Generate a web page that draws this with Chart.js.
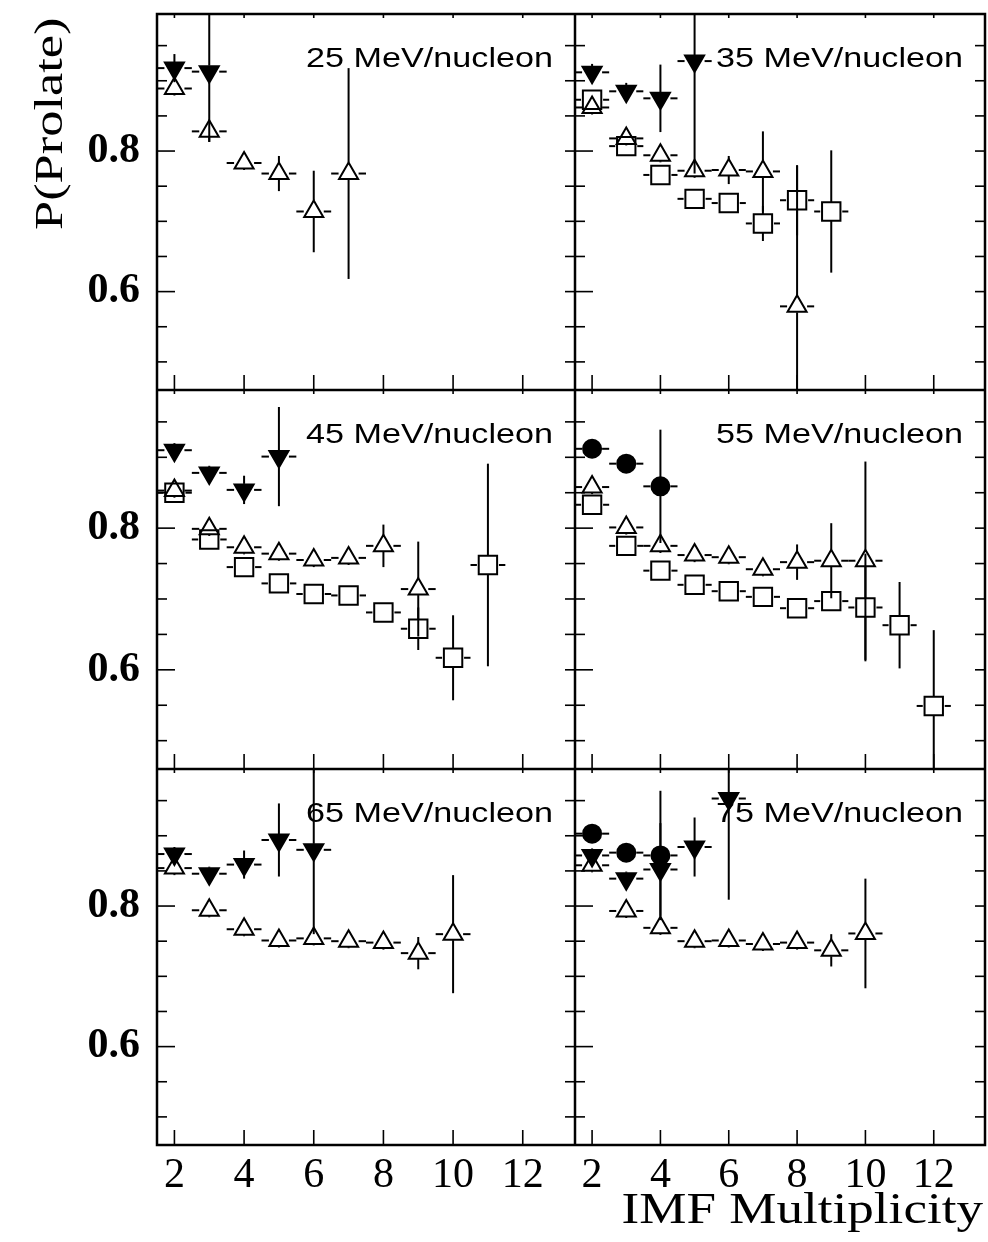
<!DOCTYPE html>
<html>
<head>
<meta charset="utf-8">
<script src="https://cdn.jsdelivr.net/npm/chart.js@4.4.0/dist/chart.umd.min.js"></script>
<style>
  html, body { margin: 0; padding: 0; background: #fff; }
  #page { position: relative; width: 988px; height: 1242px; overflow: hidden; background: #fff; }
  #page canvas { position: absolute; }
</style>
</head>
<body>
<div id="page"></div>
<script>
// IMF multiplicity bins (x values shared by every panel)
const multiplicity = [2, 3, 4, 5, 6, 7, 8, 9, 10, 11, 12];

// 25 MeV/nucleon
const e25Down = [0.918, 0.913];
const e25DownErr = [0.02, 0.10];
const e25Up = [0.889, 0.828, 0.783, 0.768, 0.714, 0.768];
const e25UpErr = [0.01, 0.015, 0.01, 0.025, 0.058, 0.15];

// 35 MeV/nucleon
const e35Down = [0.912, 0.885, 0.875, 0.928];
const e35DownErr = [0.012, 0.012, 0.048, 0.16];
const e35Up = [0.862, 0.818, 0.794, 0.772, 0.773, 0.771, 0.579];
const e35UpErr = [0.01, 0.01, 0.01, 0.01, 0.02, 0.057, 0.20];
const e35Sq = [0.873, 0.807, 0.766, 0.732, 0.726, 0.697, 0.730, 0.714];
const e35SqErr = [0.01, 0.01, 0.01, 0.01, 0.01, 0.025, 0.05, 0.087];

// 45 MeV/nucleon
const e45Down = [0.910, 0.878, 0.854, 0.901];
const e45DownErr = [0.01, 0.01, 0.02, 0.07];
const e45Up = [0.853, 0.799, 0.773, 0.764, 0.755, 0.758, 0.775, 0.714];
const e45UpErr = [0.01, 0.01, 0.01, 0.01, 0.01, 0.01, 0.03, 0.067];
const e45Sq = [0.850, 0.784, 0.745, 0.722, 0.707, 0.705, 0.681, 0.658, 0.617, 0.748];
const e45SqErr = [0.01, 0.01, 0.01, 0.01, 0.01, 0.01, 0.01, 0.03, 0.06, 0.143];

// 55 MeV/nucleon
const e55Circ = [0.912, 0.891, 0.859];
const e55CircErr = [0.01, 0.01, 0.08];
const e55Up = [0.858, 0.801, 0.775, 0.762, 0.759, 0.742, 0.752, 0.754, 0.754];
const e55UpErr = [0.01, 0.01, 0.01, 0.01, 0.01, 0.01, 0.025, 0.053, 0.14];
const e55Sq = [0.833, 0.775, 0.740, 0.720, 0.711, 0.703, 0.687, 0.697, 0.688, 0.663, 0.549];
const e55SqErr = [0.01, 0.01, 0.01, 0.01, 0.01, 0.01, 0.01, 0.01, 0.076, 0.061, 0.107];

// 65 MeV/nucleon
const e65Down = [0.874, 0.846, 0.859, 0.894, 0.880];
const e65DownErr = [0.01, 0.01, 0.02, 0.052, 0.12];
const e65Up = [0.854, 0.794, 0.767, 0.751, 0.754, 0.750, 0.748, 0.733, 0.760];
const e65UpErr = [0.01, 0.01, 0.01, 0.01, 0.01, 0.01, 0.01, 0.023, 0.084];

// 75 MeV/nucleon
const e75Circ = [0.903, 0.876, 0.872];
const e75CircErr = [0.01, 0.01, 0.092];
const e75Down = [0.872, 0.839, 0.852, 0.884, 0.953];
const e75DownErr = [0.01, 0.01, 0.066, 0.042, 0.144];
const e75Up = [0.858, 0.793, 0.769, 0.750, 0.751, 0.746, 0.748, 0.737, 0.761];
const e75UpErr = [0.01, 0.01, 0.01, 0.01, 0.01, 0.01, 0.01, 0.023, 0.078];

// axis ticks
const xLabelTicks = [2, 4, 6, 8, 10, 12];
const yLabelTicks = [0.6, 0.8];
const yMinorTicks = [0.5, 0.55, 0.6, 0.65, 0.7, 0.75, 0.8, 0.85, 0.9, 0.95];

const X_MIN = 1.5, X_MAX = 13.5;
const Y_MIN = 0.46, Y_MAX = 0.995;

// marker looks: radius plus the gap the error bars leave around the symbol
const MARKS = {
  down:   { style: 'triangle', rot: 180, r: 11, fill: '#000', gx: 10, gu: 6, gd: 11 },
  up:     { style: 'triangle', rot: 0, r: 11, fill: 'rgba(0,0,0,0)', gx: 10, gu: 11, gd: 6 },
  square: { style: 'rect', rot: 0, r: 13, fill: 'rgba(0,0,0,0)', gx: 11, gu: 9, gd: 9 },
  circle: { style: 'circle', rot: 0, r: 9, fill: '#000', gx: 10, gu: 9, gd: 9 }
};

const panels = [
  { label: '25 MeV/nucleon', col: 0, row: 0,
    series: [['up', e25Up, e25UpErr], ['down', e25Down, e25DownErr]] },
  { label: '35 MeV/nucleon', col: 1, row: 0,
    series: [['square', e35Sq, e35SqErr], ['up', e35Up, e35UpErr], ['down', e35Down, e35DownErr]] },
  { label: '45 MeV/nucleon', col: 0, row: 1,
    series: [['square', e45Sq, e45SqErr], ['up', e45Up, e45UpErr], ['down', e45Down, e45DownErr]] },
  { label: '55 MeV/nucleon', col: 1, row: 1,
    series: [['square', e55Sq, e55SqErr], ['up', e55Up, e55UpErr], ['circle', e55Circ, e55CircErr]] },
  { label: '65 MeV/nucleon', col: 0, row: 2,
    series: [['up', e65Up, e65UpErr], ['down', e65Down, e65DownErr]] },
  { label: '75 MeV/nucleon', col: 1, row: 2,
    series: [['up', e75Up, e75UpErr], ['down', e75Down, e75DownErr], ['circle', e75Circ, e75CircErr]] }
];

// page grid
const COL_X = [0, 575], COL_W = [575, 413];
const ROW_Y = [0, 390, 769], ROW_H = [390, 379, 473];

function stretchedText(ctx, text, x, y, font, sx, align, angle) {
  ctx.save();
  ctx.translate(x, y);
  if (angle) ctx.rotate(angle);
  ctx.scale(sx, 1);
  ctx.font = font;
  ctx.fillStyle = '#000';
  ctx.textAlign = align;
  ctx.textBaseline = 'alphabetic';
  ctx.fillText(text, 0, 0);
  ctx.restore();
}

function seg(ctx, x1, y1, x2, y2) {
  ctx.beginPath();
  ctx.moveTo(x1, y1);
  ctx.lineTo(x2, y2);
  ctx.stroke();
}

// scales get their exact size, and no extra room for edge labels
function fixSize(scale, w, h) {
  if (w !== null) scale.width = w;
  if (h !== null) scale.height = h;
  scale.paddingTop = 0;
  scale.paddingBottom = 0;
  scale.paddingLeft = 0;
  scale.paddingRight = 0;
}

const framePlugin = {
  id: 'frame',
  beforeDatasetsDraw(chart, args, opts) {
    const ctx = chart.ctx;
    const area = chart.chartArea;
    const xs = chart.scales.x, ys = chart.scales.y;

    stretchedText(ctx, opts.label, area.right - 22, area.top + 53,
      '28px "Liberation Sans", Arial, sans-serif', 1.22, 'right');

    // error bars, with a gap around each symbol
    ctx.save();
    ctx.beginPath();
    ctx.rect(area.left, area.top, area.right - area.left, area.bottom - area.top);
    ctx.clip();
    ctx.strokeStyle = '#000';
    ctx.lineWidth = 2;
    chart.data.datasets.forEach(ds => {
      const m = MARKS[ds.mark];
      ds.data.forEach(p => {
        const cx = xs.getPixelForValue(p.x), cy = ys.getPixelForValue(p.y);
        const xl = xs.getPixelForValue(p.x - 0.5), xr = xs.getPixelForValue(p.x + 0.5);
        const yt = ys.getPixelForValue(p.y + p.e), yb = ys.getPixelForValue(p.y - p.e);
        seg(ctx, xl, cy, cx - m.gx, cy);
        seg(ctx, cx + m.gx, cy, xr, cy);
        if (yt < cy - m.gu) seg(ctx, cx, yt, cx, cy - m.gu);
        if (yb > cy + m.gd) seg(ctx, cx, cy + m.gd, cx, yb);
      });
    });
    ctx.restore();
  },
  afterDraw(chart, args, opts) {
    const ctx = chart.ctx;
    const { left, right, top, bottom } = chart.chartArea;
    const xs = chart.scales.x, ys = chart.scales.y;
    ctx.save();
    ctx.strokeStyle = '#000';
    ctx.lineWidth = 2.5;
    ctx.strokeRect(left, top, right - left, bottom - top);

    // inward ticks on all four sides
    ctx.lineWidth = 1.6;
    yMinorTicks.forEach(v => {
      const y = ys.getPixelForValue(v);
      const len = yLabelTicks.includes(v) ? 18 : 10;
      seg(ctx, left, y, left + len, y);
      seg(ctx, right, y, right - 10, y);
    });
    xLabelTicks.forEach(v => {
      const x = xs.getPixelForValue(v);
      seg(ctx, x, bottom, x, bottom - 15);
      seg(ctx, x, top, x, top + 4);
    });
    ctx.restore();

    if (opts.yTitle) {
      stretchedText(ctx, 'P(Prolate)', 62, 230,
        '40px "Liberation Serif", "Times New Roman", serif', 1.31, 'left', -Math.PI / 2);
    }
    if (opts.xTitle) {
      stretchedText(ctx, 'IMF Multiplicity', right - 2, 454,
        '45px "Liberation Serif", "Times New Roman", serif', 1.18, 'right');
    }
  }
};

const page = document.getElementById('page');

panels.forEach(panel => {
  const canvas = document.createElement('canvas');
  canvas.width = COL_W[panel.col];
  canvas.height = ROW_H[panel.row];
  canvas.style.left = COL_X[panel.col] + 'px';
  canvas.style.top = ROW_Y[panel.row] + 'px';
  page.appendChild(canvas);

  const firstCol = panel.col === 0;
  const lastRow = panel.row === 2;

  const datasets = panel.series.map(([mark, values, errors]) => {
    const m = MARKS[mark];
    return {
      mark: mark,
      data: values.map((v, i) => ({ x: multiplicity[i], y: v, e: errors[i] })),
      showLine: false,
      pointStyle: m.style,
      pointRotation: m.rot,
      pointRadius: m.r,
      pointHoverRadius: m.r,
      pointBackgroundColor: m.fill,
      pointBorderColor: '#000',
      pointBorderWidth: 2
    };
  });

  new Chart(canvas, {
    type: 'scatter',
    data: { datasets },
    options: {
      responsive: false,
      animation: false,
      events: [],
      layout: {
        autoPadding: false,
        padding: { top: panel.row === 0 ? 14 : 0, right: panel.col === 1 ? 3 : 0, left: 0, bottom: 0 }
      },
      plugins: {
        legend: { display: false },
        tooltip: { enabled: false },
        frame: {
          label: panel.label,
          yTitle: firstCol && panel.row === 0,
          xTitle: lastRow && panel.col === 1
        }
      },
      scales: {
        x: {
          type: 'linear',
          min: X_MIN,
          max: X_MAX,
          grid: { display: false, drawTicks: false },
          border: { display: false },
          afterBuildTicks: s => { s.ticks = xLabelTicks.map(v => ({ value: v })); },
          afterFit: s => fixSize(s, null, lastRow ? 97 : 0),
          ticks: {
            display: lastRow,
            autoSkip: false,
            maxRotation: 0,
            padding: 6,
            color: '#000',
            font: { family: '"Liberation Serif", "Times New Roman", serif', size: 42 },
            callback: v => String(v)
          }
        },
        y: {
          type: 'linear',
          min: Y_MIN,
          max: Y_MAX,
          grid: { display: false, drawTicks: false },
          border: { display: false },
          afterBuildTicks: s => { s.ticks = yLabelTicks.map(v => ({ value: v })); },
          afterFit: s => fixSize(s, firstCol ? 157 : 0, null),
          ticks: {
            display: firstCol,
            padding: 17,
            color: '#000',
            font: { family: '"Liberation Serif", "Times New Roman", serif', size: 42, weight: 'bold' },
            callback: v => v.toFixed(1)
          }
        }
      }
    },
    plugins: [framePlugin]
  });
});
</script>
</body>
</html>
